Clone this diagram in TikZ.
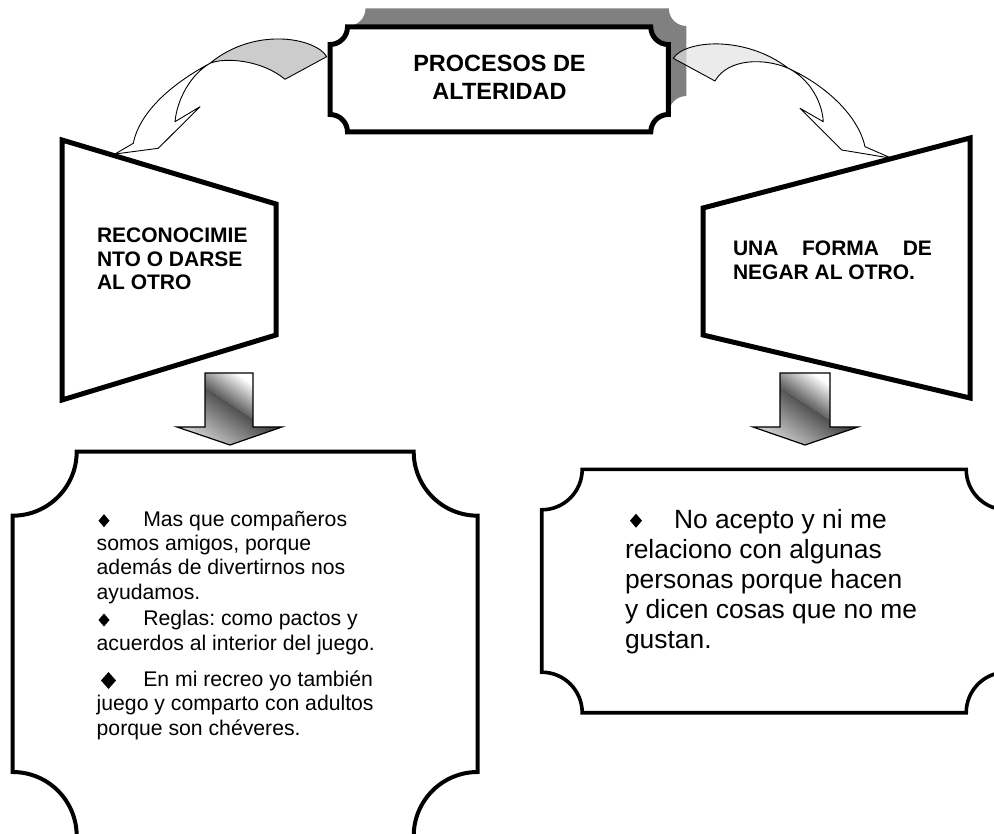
\documentclass[tikz,border=0pt]{standalone}
\usepackage{fontspec}
\setmainfont{Liberation Sans}
\definecolor{shadowgray}{HTML}{808080}
\definecolor{lgrey}{HTML}{CCCCCC}
\definecolor{rgrey}{HTML}{E2E2E2}
\newcommand{\plaquepath}[5]{%
 ({#1+#5},#2) -- ({#3-#5},#2) .. controls ({#3-#5},{#2+0.5523*#5}) and ({#3-0.5523*#5},{#2+#5}) .. (#3,{#2+#5})
 -- (#3,{#4-#5}) .. controls ({#3-0.5523*#5},{#4-#5}) and ({#3-#5},{#4-0.5523*#5}) .. ({#3-#5},#4)
 -- ({#1+#5},#4) .. controls ({#1+#5},{#4-0.5523*#5}) and ({#1+0.5523*#5},{#4-#5}) .. (#1,{#4-#5})
 -- (#1,{#2+#5}) .. controls ({#1+0.5523*#5},{#2+#5}) and ({#1+#5},{#2+0.5523*#5}) .. ({#1+#5},#2) -- cycle}
\tikzset{
 txt/.style={inner sep=0pt, outer sep=0pt, anchor=base west},
 ctxt/.style={inner sep=0pt, outer sep=0pt, anchor=base},
 bold21/.style={font=\fontsize{21}{24}\selectfont\bfseries},
 reg21/.style={font=\fontsize{21.2}{24}\selectfont},
 reg26/.style={font=\fontsize{26.4}{30}\selectfont},
 thick5/.style={line width=5pt, draw=black, fill=white},
 ribbon/.style={draw=black, line width=0.9pt, line join=round},
 upshade/.style={top color=white, middle color=black!80, bottom color=black, shading angle=-35},
 lowshade/.style={top color=black, bottom color=gray!30, shading angle=-35},
 blockout/.style={draw=black, line width=1.2pt},
}
\begin{document}
\frenchspacing
\begin{tikzpicture}[x=1pt,y=-1pt]
\useasboundingbox (0,0) rectangle (994,834);
\clip (0,0) rectangle (994,834);

% title shadow
\fill[shadowgray] \plaquepath{348}{8.5}{686.3}{113.5}{17.5};

% left curved arrow
\filldraw[ribbon, fill=lgrey] (326.7,56.7) .. controls (316,38) and (255,26) .. (210,63.3)
  .. controls (225,57) and (262,60) .. (285,79.3) -- cycle;
\filldraw[ribbon, fill=white] (210,63.3) .. controls (175,82) and (140,110) .. (133.3,143.3)
  -- (115,154) -- (158.3,148.3) -- (200,106.7) -- (175,121.7)
  .. controls (177,100) and (190,75) .. (210,63.3) -- cycle;

% right curved arrow
\filldraw[ribbon, fill=rgrey, fill opacity=0.7] (673.3,58.3) .. controls (685,40) and (745,35) .. (788.3,68.3)
  .. controls (765,58) and (728,58) .. (715,81) -- cycle;
\filldraw[ribbon, fill=white] (788.3,68.3) .. controls (825,85) and (858,115) .. (865,146.7)
  -- (891.7,158.3) -- (841.7,150) -- (800,108.3) -- (823.3,121.7)
  .. controls (822,100) and (808,78) .. (788.3,68.3) -- cycle;

% title box
\draw[thick5] \plaquepath{330}{27}{668.3}{132}{17.5};
\node[ctxt, font=\fontsize{23.5}{27}\selectfont\bfseries] (title1) at (499.5,71.7) {PROCESOS DE};
\node[ctxt, font=\fontsize{23.5}{27}\selectfont\bfseries] (title2) at (499.5,99.3) {ALTERIDAD};

% trapezoids
\draw[thick5] (62,140) -- (276,204) -- (276,335) -- (62,400) -- cycle;
\draw[thick5] (703,208) -- (970,138) -- (970,398) -- (703,335) -- cycle;

\node[txt, bold21] (la1) at (97,243) {RECONOCIMIE};
\node[txt, bold21] (la2) at (97,266.3) {NTO O DARSE};
\node[txt, bold21] (la3) at (97,289.7) {AL OTRO};

\node[txt, bold21] (ra1) at (733,255.8) {\makebox[199pt][s]{UNA\hfill FORMA\hfill DE}};
\node[txt, bold21] (ra2) at (733,279.2) {NEGAR AL OTRO.};

% left block arrow
\shade[upshade] (205,373) -- (253,373) -- (253,419) -- (205,387) -- cycle;
\shade[lowshade] (205,387) -- (253,419) -- (253,427) -- (282,427) -- (230,445) -- (177,427) -- (205,427) -- cycle;
\draw[blockout] (205,373) -- (253,373) -- (253,427) -- (282,427) -- (230,445) -- (177,427) -- (205,427) -- cycle;

% right block arrow
\shade[upshade] (780,373) -- (830,373) -- (830,420) -- (780,387) -- cycle;
\shade[lowshade] (780,387) -- (830,420) -- (830,427) -- (858,427) -- (805,445) -- (753,427) -- (780,427) -- cycle;
\draw[blockout] (780,373) -- (830,373) -- (830,427) -- (858,427) -- (805,445) -- (753,427) -- (780,427) -- cycle;

% bottom boxes
\draw[line width=4pt, fill=white] \plaquepath{12.7}{451.7}{477.7}{836}{64};
\draw[line width=3.6pt, fill=white] \plaquepath{541.7}{469.3}{1006.7}{712.7}{40.5};

% left box text
\fill (104,514.2) -- (109.5,520.7) -- (104,527.2) -- (98.5,520.7) -- cycle;
\node[txt, reg21] (t1) at (143.3,526.7) {Mas que compañeros};
\node[txt, reg21] (t2) at (96.7,550.7) {somos amigos, porque};
\node[txt, reg21] (t3) at (96.7,574.5) {además de divertirnos nos};
\node[txt, reg21] (t4) at (96.7,599.5) {ayudamos.};
\fill (104,613.5) -- (109.5,620) -- (104,626.5) -- (98.5,620) -- cycle;
\node[txt, reg21] (t5) at (143.3,625.5) {Reglas: como pactos y};
\node[txt, reg21] (t6) at (96.7,650) {acuerdos al interior del juego.};
\fill (108.5,672) -- (116,680.5) -- (108.5,689) -- (101,680.5) -- cycle;
\node[txt, reg21] (t7) at (143.3,686) {En mi recreo yo también};
\node[txt, reg21] (t8) at (96.7,710.5) {juego y comparto con adultos};
\node[txt, reg21] (t9) at (96.7,735) {porque son chéveres.};

% right box text
\fill (636,513.7) -- (642,520.7) -- (636,527.7) -- (630,520.7) -- cycle;
\node[txt, reg26] (r1) at (674,528) {No acepto y ni me};
\node[txt, reg26] (r2) at (625,558) {relaciono con algunas};
\node[txt, reg26] (r3) at (625,588) {personas porque hacen};
\node[txt, reg26] (r4) at (625,618) {y dicen cosas que no me};
\node[txt, reg26] (r5) at (625,648) {gustan.};
\end{tikzpicture}
\end{document}
